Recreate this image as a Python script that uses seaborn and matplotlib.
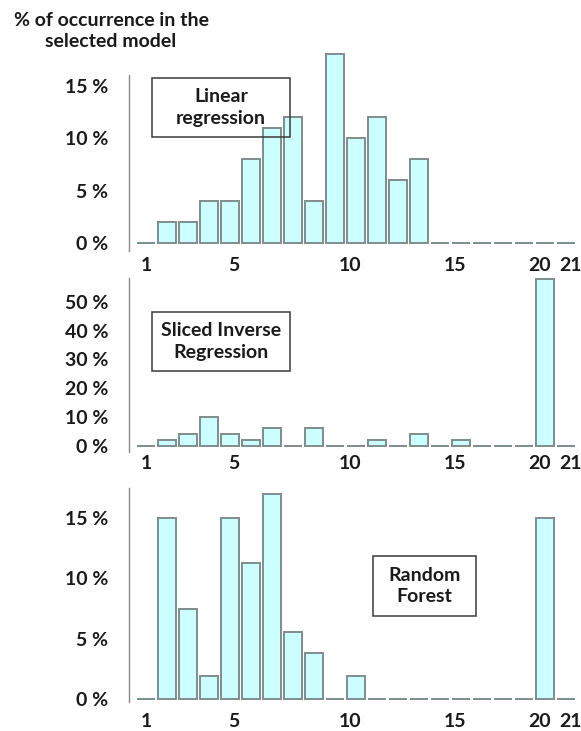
import numpy as np
import pandas as pd
import matplotlib
matplotlib.use("Agg")
import matplotlib.pyplot as plt
from matplotlib.patches import Rectangle
import seaborn as sns

# ---------------------------
# Data (% of occurrence of each variable in the selected model)
# ---------------------------
variables = list(range(1, 22))
linear_pct = [0, 2, 2, 4, 4, 8, 11, 12, 4, 18, 10, 12, 6, 8, 0, 0, 0, 0, 0, 0, 0]
sir_pct = [0, 2, 4, 10, 4, 2, 6, 0, 6, 0, 0, 2, 0, 4, 0, 2, 0, 0, 0, 58, 0]
rf_pct = [0, 15, 7.5, 1.9, 15, 11.3, 17, 5.6, 3.8, 0, 1.9, 0, 0, 0, 0, 0, 0, 0, 0, 15, 0]

model_names = ["Linear\nregression", "Sliced Inverse\nRegression", "Random\nForest"]
y_ticks = [[0, 5, 10, 15], [0, 10, 20, 30, 40, 50], [0, 5, 10, 15]]
x_tick_labels = ["1", "5", "10", "15", "20", "21"]
# label positions as they sit in the original figure
x_tick_pos = [1, 5.2, 10.7, 15.7, 19.75, 21.2]

# ---------------------------
# Style
# ---------------------------
sns.set_theme(style="white")
plt.rcParams["font.family"] = ["Lato", "DejaVu Sans"]
plt.rcParams["font.weight"] = "bold"

W, H = 581, 731
fig = plt.figure(figsize=(W / 100, H / 100), dpi=100)


def px_axes(left, top, width, bottom):
    return fig.add_axes([left / W, 1 - bottom / H, width / W, (bottom - top) / H])


# panel layout in pixels: (top, bottom, ylim, x label pad, box)
panels = [
    (75, 251, (-0.73, 16.0), 4, (152, 78, 138, 59)),
    (278, 452, (-2.26, 58.4), 2, (152, 312, 138, 59)),
    (488, 701.7, (-0.2, 17.47), 8, (373, 556, 103, 60)),
]
series = [linear_pct, sir_pct, rf_pct]

for (top, bottom, ylim, xpad, box), vals, ticks, name in zip(panels, series, y_ticks, model_names):
    ax = px_axes(129, top, 452, bottom)
    df = pd.DataFrame({"variable": variables, "pct": vals})
    sns.barplot(data=df, x="variable", y="pct", ax=ax, native_scale=True,
                color="#CCFFFF", saturation=1, edgecolor="#7F8C8C",
                linewidth=1.4, width=0.82, errorbar=None)
    # tallest bars run past the end of the axis line in the original
    for p in ax.patches:
        p.set_clip_on(False)
    ax.set_xlim(0.19, 21.71)
    ax.set_ylim(*ylim)
    ax.set_yticks(ticks)
    ax.set_yticklabels([f"{t} %" for t in ticks], fontsize=14, fontweight="bold")
    ax.set_xticks(x_tick_pos)
    ax.set_xticklabels(x_tick_labels, fontsize=14, fontweight="bold")
    ax.tick_params(axis="both", length=0, colors="#1a1a1a")
    ax.tick_params(axis="y", pad=15)
    ax.tick_params(axis="x", pad=xpad)
    ax.set_xlabel("")
    ax.set_ylabel("")
    for s in ["top", "right", "bottom"]:
        ax.spines[s].set_visible(False)
    ax.spines["left"].set_color("#8a8a8a")
    ax.spines["left"].set_linewidth(1.0)

    # model name box
    bx, by, bw, bh = box
    fig.patches.append(Rectangle((bx / W, 1 - (by + bh) / H), bw / W, bh / H,
                                 transform=fig.transFigure, fill=False,
                                 edgecolor="#3a3a3a", linewidth=1.1, zorder=5))
    fig.text((bx + bw / 2) / W, 1 - (by + bh / 2) / H, name, ha="center", va="center",
             fontsize=14, fontweight="bold", color="#1a1a1a", linespacing=1.3)

fig.text(111 / W, 1 - 31 / H, "% of occurrence in the\nselected model", ha="center",
         va="center", fontsize=14, fontweight="bold", color="#1a1a1a", linespacing=1.35)

fig.savefig("out.png", dpi=100)
